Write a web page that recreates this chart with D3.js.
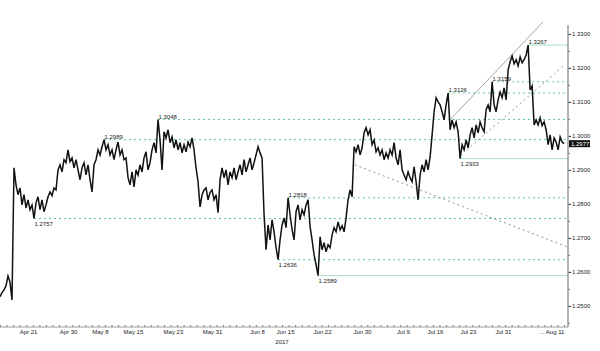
<!DOCTYPE html>
<html>
<head>
<meta charset="utf-8">
<script src="https://cdnjs.cloudflare.com/ajax/libs/d3/7.8.5/d3.min.js"></script>
<style>
  body { margin: 0; background: #fff; }
  text { font-family: "Liberation Sans", Arial, sans-serif; }
</style>
</head>
<body>
<svg id="chart" width="600" height="351"></svg>
<script>
// GBP/USD, one sample every ~0.3 trading day, starting Mon Apr 17 2017
var price = [
  1.2527, 1.2539, 1.2547, 1.2559, 1.2588, 1.2570, 1.2518, 1.2906, 1.2856, 1.2827,
  1.2847, 1.2797, 1.2827, 1.2788, 1.2812, 1.2783, 1.2797, 1.2757, 1.2803, 1.2821,
  1.2783, 1.2812, 1.2777, 1.2797, 1.2821, 1.2835, 1.2824, 1.2847, 1.2841, 1.2900,
  1.2915, 1.2894, 1.2930, 1.2921, 1.2959, 1.2924, 1.2935, 1.2906, 1.2930, 1.2900,
  1.2871, 1.2906, 1.2921, 1.2885, 1.2915, 1.2871, 1.2835, 1.2915, 1.2930, 1.2959,
  1.2944, 1.2968, 1.2989, 1.2959, 1.2974, 1.2944, 1.2959, 1.2930, 1.2959, 1.2982,
  1.2944, 1.2959, 1.2930, 1.2935, 1.2877, 1.2856, 1.2894, 1.2850, 1.2900, 1.2885,
  1.2915, 1.2894, 1.2935, 1.2953, 1.2900, 1.2921, 1.2959, 1.2980, 1.2950, 1.3048,
  1.2988, 1.2900, 1.3012, 1.2994, 1.3018, 1.2980, 1.2997, 1.2965, 1.2988, 1.2959,
  1.2980, 1.2950, 1.2974, 1.2953, 1.2982, 1.2968, 1.2994, 1.2959, 1.2906, 1.2865,
  1.2791, 1.2827, 1.2841, 1.2847, 1.2812, 1.2833, 1.2841, 1.2812, 1.2827, 1.2774,
  1.2871, 1.2906, 1.2877, 1.2900, 1.2856, 1.2894, 1.2877, 1.2906, 1.2871, 1.2894,
  1.2915, 1.2885, 1.2930, 1.2894, 1.2915, 1.2935, 1.2900, 1.2921, 1.2944, 1.2968,
  1.2950, 1.2935, 1.2768, 1.2665, 1.2738, 1.2694, 1.2753, 1.2718, 1.2671, 1.2636,
  1.2694, 1.2738, 1.2759, 1.2730, 1.2818, 1.2768, 1.2724, 1.2694, 1.2777, 1.2797,
  1.2753, 1.2783, 1.2768, 1.2797, 1.2812, 1.2733, 1.2694, 1.2650, 1.2621, 1.2589,
  1.2703, 1.2665, 1.2686, 1.2659, 1.2680, 1.2671, 1.2709, 1.2730, 1.2718, 1.2747,
  1.2724, 1.2736, 1.2718, 1.2759, 1.2812, 1.2841, 1.2821, 1.2968, 1.2953, 1.2974,
  1.2944, 1.2965, 1.3009, 1.3024, 1.3003, 1.3018, 1.2974, 1.2988, 1.2953, 1.2965,
  1.2944, 1.2959, 1.2930, 1.2950, 1.2935, 1.2959, 1.2944, 1.2980, 1.2935, 1.2915,
  1.2959, 1.2900, 1.2885, 1.2871, 1.2894, 1.2877, 1.2865, 1.2909, 1.2865, 1.2812,
  1.2885, 1.2915, 1.2894, 1.2930, 1.2900, 1.2938, 1.3003, 1.3071, 1.3112, 1.3100,
  1.3091, 1.3071, 1.3047, 1.3091, 1.3126, 1.3018, 1.3047, 1.3024, 1.3041, 1.3012,
  1.2933, 1.2974, 1.2959, 1.2988, 1.2965, 1.3003, 1.3024, 1.2994, 1.3032, 1.3009,
  1.3041, 1.3024, 1.3012, 1.3077, 1.3091, 1.3071, 1.3159, 1.3091, 1.3071, 1.3106,
  1.3129, 1.3112, 1.3141, 1.3106, 1.3194, 1.3218, 1.3235, 1.3212, 1.3224, 1.3206,
  1.3232, 1.3215, 1.3224, 1.3238, 1.3267, 1.3135, 1.3147, 1.3032, 1.3047, 1.3032,
  1.3053, 1.3030, 1.3041, 1.3018, 1.2974, 1.3003, 1.2959, 1.2994, 1.2982, 1.2959,
  1.2997, 1.2982, 1.2977
];
var sampleStep = 0.305; // trading days between samples

// x axis labels (position in trading days)
var tickDays = [4.27, 10.37, 15.24, 20.27, 26.37, 32.32, 39.18, 43.45, 49.09, 55.18, 61.43, 66.31, 71.34, 76.68, 84.0];
var tickLabels = ["Apr 21", "Apr 30", "May 8", "May 15", "May 23", "May 31", "Jun 8", "Jun 15",
                  "Jun 22", "Jun 30", "Jul 9", "Jul 16", "Jul 23", "Jul 31", "\u2026 Aug 11"];
var yearLabel = "2017";
var yearTick = 43.45;

var yTicks = [1.25, 1.26, 1.27, 1.28, 1.29, 1.30, 1.31, 1.32, 1.33];
var yMinor = [1.245, 1.255, 1.265, 1.275, 1.285, 1.295, 1.305, 1.315, 1.325];

// marked highs / lows
var levels = [1.2757, 1.2989, 1.3048, 1.2636, 1.2818, 1.2589, 1.3126, 1.2933, 1.3159, 1.3267];
var solidLevels = [1.3267, 1.2933, 1.2589];

// trend lines [day, price]
var trendDown = [[54.1, 1.2915], [86.4, 1.2674]];
var channelTop = [[68.6, 1.3047], [82.8, 1.3335]];
var channelLow = [[71.2, 1.2959], [86.1, 1.3209]];

var svg = d3.select("#chart");
var axisX = 568, axisBottom = 327, axisTop = 25;

var x = d3.scaleLinear().domain([0, 86.6]).range([0, axisX]);
var y = d3.scaleLinear().domain([1.2438, 1.3326]).range([axisBottom, axisTop]);

//levels
levels.forEach(function(v) {
  var i = price.indexOf(v);
  var solid = solidLevels.indexOf(v) >= 0;
  var isHigh = (i > 0 && price[i] >= price[i - 1]);
  svg.append("line")
    .attr("x1", x(i * sampleStep)).attr("x2", axisX)
    .attr("y1", y(v)).attr("y2", y(v))
    .attr("stroke", solid ? "#a6dcc6" : "#5fc6a3")
    .attr("stroke-width", 1)
    .attr("stroke-dasharray", solid ? null : "2,3");
  svg.append("text")
    .attr("x", x(i * sampleStep) + 0.5)
    .attr("y", isHigh ? y(v) - 1 : y(v) + 7)
    .attr("font-size", "6px")
    .attr("fill", "#222")
    .text(v.toFixed(4));
});

//trend lines
function trend(pts, dash, col) {
  svg.append("line")
    .attr("x1", x(pts[0][0])).attr("y1", y(pts[0][1]))
    .attr("x2", x(pts[1][0])).attr("y2", y(pts[1][1]))
    .attr("stroke", col)
    .attr("stroke-width", 0.9)
    .attr("stroke-dasharray", dash);
}
trend(trendDown, "2,3", "#8a8a8a");
trend(channelLow, "2,3", "#8a8a8a");
trend(channelTop, null, "#9a9a9a");

//price line
var line = d3.line()
  .x(function(d, i) { return x(i * sampleStep); })
  .y(function(d) { return y(d); });
svg.append("path")
  .datum(price)
  .attr("d", line)
  .attr("fill", "none")
  .attr("stroke", "#111")
  .attr("stroke-width", 1.5)
  .attr("stroke-linejoin", "miter");

//right axis
var yAxis = d3.axisRight(y).tickValues(yTicks).tickSize(3).tickFormat(d3.format(".4f"));
var gy = svg.append("g").attr("transform", "translate(" + axisX + ",0)").call(yAxis);
gy.select(".domain").remove();
gy.selectAll("text").attr("font-size", "6px").attr("fill", "#222").attr("x", 4).style("font-family", "Liberation Sans, Arial, sans-serif");
gy.selectAll("line").attr("stroke", "#222");
var gyMinor = svg.append("g").attr("transform", "translate(" + axisX + ",0)")
  .call(d3.axisRight(y).tickValues(yMinor).tickSize(2).tickFormat(""));
gyMinor.select(".domain").remove();
gyMinor.selectAll("line").attr("stroke", "#666");

//bottom axis
var xMinor = svg.append("g").attr("transform", "translate(0," + axisBottom + ")")
  .call(d3.axisBottom(x).tickValues(d3.range(0, 87, 1)).tickSize(-2).tickFormat(""));
xMinor.select(".domain").remove();
xMinor.selectAll("line").attr("stroke", "#777");

var xAxis = d3.axisBottom(x).tickValues(tickDays).tickSize(0).tickPadding(3)
  .tickFormat(function(d, i) { return tickLabels[i]; });
var gx = svg.append("g").attr("transform", "translate(0," + axisBottom + ")").call(xAxis);
gx.select(".domain").remove();
gx.selectAll("text").attr("font-size", "6px").attr("fill", "#222").style("font-family", "Liberation Sans, Arial, sans-serif");

svg.append("text")
  .attr("x", x(yearTick) - 3).attr("y", axisBottom + 17)
  .attr("text-anchor", "middle")
  .attr("font-size", "6px").attr("fill", "#222")
  .text(yearLabel);

//axis frame lines
svg.append("line").attr("x1", 0).attr("x2", axisX).attr("y1", axisBottom).attr("y2", axisBottom)
  .attr("stroke", "#999").attr("stroke-width", 1.2);
svg.append("line").attr("x1", axisX).attr("x2", axisX).attr("y1", axisTop).attr("y2", axisBottom)
  .attr("stroke", "#999").attr("stroke-width", 1.5);

//last value tag
var last = price[price.length - 1];
svg.append("rect")
  .attr("x", axisX + 1).attr("y", y(last) - 3.5)
  .attr("width", 21).attr("height", 7)
  .attr("fill", "#111");
svg.append("text")
  .attr("x", axisX + 3).attr("y", y(last) + 2.2)
  .attr("font-size", "6px").attr("fill", "#fff")
  .text(last.toFixed(4));
</script>
</body>
</html>
